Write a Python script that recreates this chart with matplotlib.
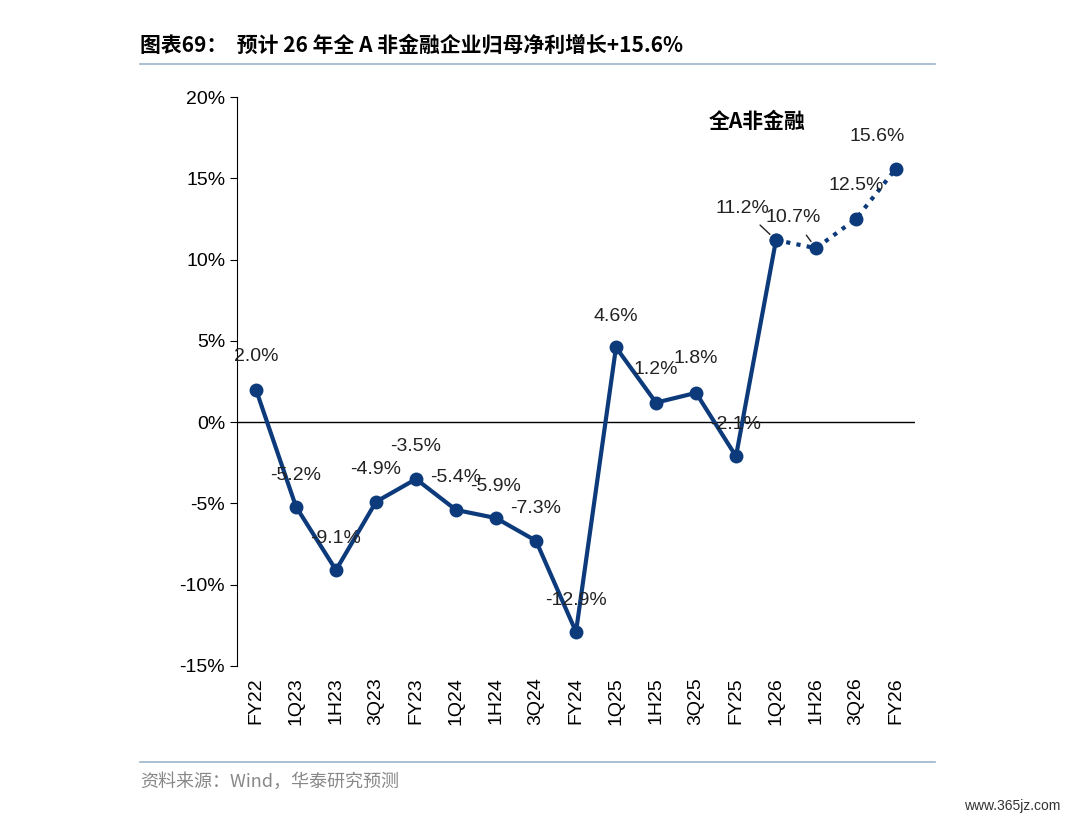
import matplotlib
matplotlib.use("Agg")
import matplotlib.pyplot as plt

plt.rcParams['font.family'] = ['Liberation Sans', 'Noto Sans CJK SC', 'DejaVu Sans']

categories = ["FY22","1Q23","1H23","3Q23","FY23","1Q24","1H24","3Q24","FY24",
              "1Q25","1H25","3Q25","FY25","1Q26","1H26","3Q26","FY26"]
values = [2.0,-5.2,-9.1,-4.9,-3.5,-5.4,-5.9,-7.3,-12.9,4.6,1.2,1.8,-2.1,11.2,10.7,12.5,15.6]
labels = ["2.0%","-5.2%","-9.1%","-4.9%","-3.5%","-5.4%","-5.9%","-7.3%","-12.9%",
          "4.6%","1.2%","1.8%","-2.1%","11.2%","10.7%","12.5%","15.6%"]
# label offsets in pixels (dx, dy up)
offsets = [(0,33),(0,31),(0,32),(0,32),(0,33),(0,32),(0,32),(0,32),(0,31),
           (0,31),(0,33),(0,34),(0,32),(-34,32),(-23,31),(0,33),(-19,32)]
leaders = {13, 14}
color = "#0c3a7a"

fig = plt.figure(figsize=(10.73, 8.23), dpi=100)
ax = fig.add_axes([237/1073, 1-666/823, (915-237)/1073, (666-97)/823])
x = list(range(len(categories)))
ax.plot(x[:14], values[:14], color=color, lw=3, marker='o', ms=9, zorder=3)
ax.plot(x[13:], values[13:], color=color, lw=3, ls=(0, (1, 1.5)), zorder=2)
ax.plot(x[13:], values[13:], color=color, lw=0, marker='o', ms=9, zorder=3)
px = 0.72
for i, (v, t, (dx, dy)) in enumerate(zip(values, labels, offsets)):
    if i in leaders:
        ax.annotate(t, (i, v), xytext=(dx*px, dy*px), textcoords='offset points',
                    ha='center', va='center', fontsize=14, color='#222222',
                    arrowprops=dict(arrowstyle='-', color='#222222', lw=1, shrinkA=6, shrinkB=6))
    else:
        ax.annotate(t, (i, v), xytext=(dx*px, dy*px), textcoords='offset points',
                    ha='center', va='center', fontsize=14, color='#222222')
ax.set_xlim(-0.475, 16.475)
ax.set_ylim(-15, 20)
ax.set_yticks(range(-15, 21, 5))
ax.set_yticklabels([f"{t}%" for t in range(-15, 21, 5)], fontsize=14)
ax.set_xticks(x)
ax.set_xticklabels(categories, rotation=90, fontsize=14)
for s in ['top', 'right', 'bottom']:
    ax.spines[s].set_visible(False)
ax.spines['left'].set_color('black')
ax.axhline(0, color='black', lw=1)
ax.tick_params(axis='x', length=0, pad=8)
ax.tick_params(axis='y', direction='out', length=5)
ax.text(757, 122, "全A非金融", transform=None, fontsize=15, fontweight='bold',
        ha='center', va='center')
# fix transform=None to pixel coords
for t in ax.texts[-1:]:
    t.remove()
fig.text(757/1073, 1-122/823, "全A非金融", fontsize=15, fontweight='bold',
         ha='center', va='center', family=['Noto Sans CJK SC', 'DejaVu Sans'])

fig.text(140/1073, 1-45/823, "图表69：  预计 26 年全 A 非金融企业归母净利增长+15.6%",
         fontsize=15, fontweight='bold', ha='left', va='center',
         family=['Noto Sans CJK SC', 'DejaVu Sans'])
fig.add_artist(plt.Line2D([140/1073, 935/1073], [1-64/823]*2, color='#9db3cc', lw=1.2))
fig.add_artist(plt.Line2D([140/1073, 935/1073], [1-762/823]*2, color='#9db3cc', lw=1.2))
fig.text(140/1073, 1-782/823, "资料来源：Wind，华泰研究预测", fontsize=13, color='#888888',
         ha='left', va='center', family=['Noto Sans CJK SC', 'DejaVu Sans'])
fig.text(1060/1073, 1-806/823, "www.365jz.com", fontsize=10, color='#333333',
         ha='right', va='center')
fig.savefig("out.png", dpi=100)
